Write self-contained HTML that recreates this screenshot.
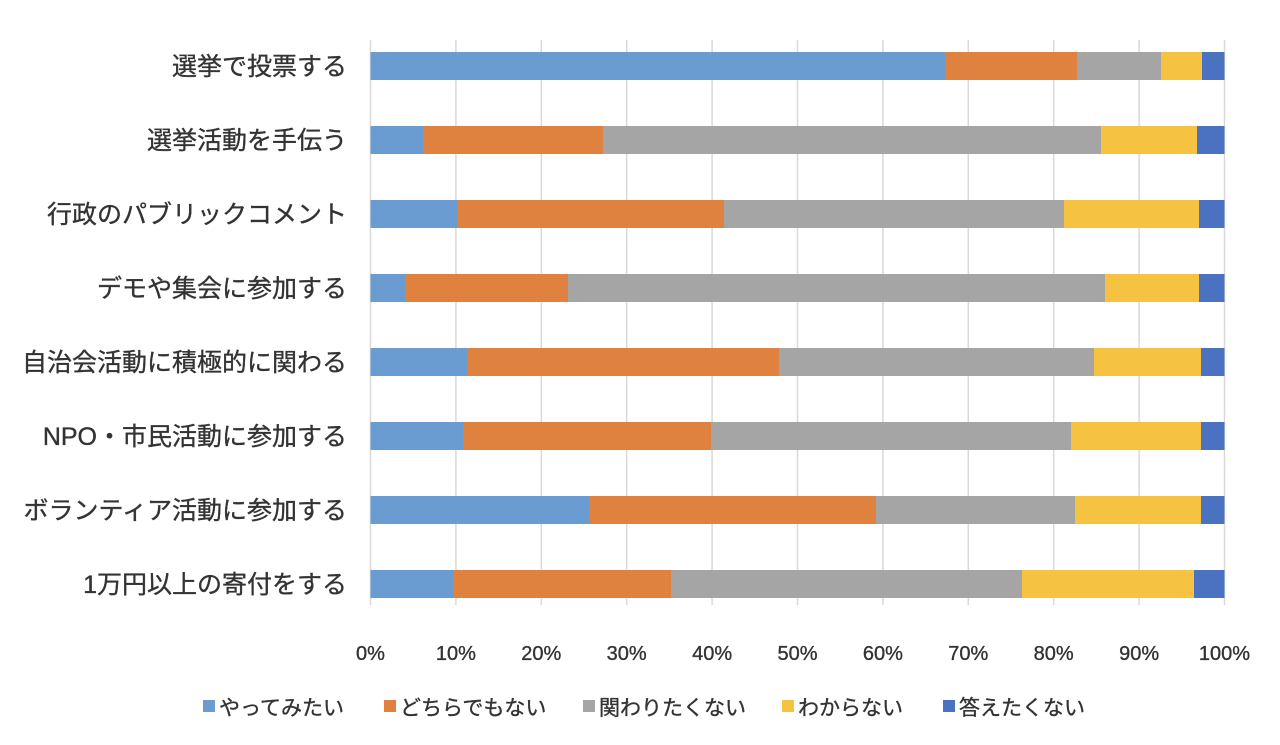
<!DOCTYPE html><html><head><meta charset="utf-8"><style>body{margin:0;background:#fff}svg{display:block}text{font-family:"Liberation Sans","Noto Sans CJK JP",sans-serif;fill:#333;stroke:#333;stroke-width:0.35}</style></head><body>
<svg width="1280" height="745" xmlns="http://www.w3.org/2000/svg">
<g stroke="#d9d9d9" stroke-width="1.5">
<line x1="370.5" y1="40" x2="370.5" y2="605"/><line x1="455.9" y1="40" x2="455.9" y2="605"/><line x1="541.3" y1="40" x2="541.3" y2="605"/><line x1="626.7" y1="40" x2="626.7" y2="605"/><line x1="712.1" y1="40" x2="712.1" y2="605"/><line x1="797.5" y1="40" x2="797.5" y2="605"/><line x1="882.9" y1="40" x2="882.9" y2="605"/><line x1="968.3" y1="40" x2="968.3" y2="605"/><line x1="1053.7" y1="40" x2="1053.7" y2="605"/><line x1="1139.1" y1="40" x2="1139.1" y2="605"/><line x1="1224.5" y1="40" x2="1224.5" y2="605"/>
</g>
<g font-size="25" text-anchor="end">
<text x="347" y="75">選挙で投票する</text>
<text x="347" y="149">選挙活動を手伝う</text>
<text x="347" y="223">行政のパブリックコメント</text>
<text x="347" y="297">デモや集会に参加する</text>
<text x="347" y="371">自治会活動に積極的に関わる</text>
<text x="347" y="445">NPO・市民活動に参加する</text>
<text x="347" y="519">ボランティア活動に参加する</text>
<text x="347" y="593">1万円以上の寄付をする</text>
</g>
<g font-size="20" text-anchor="middle">
<text x="370.5" y="660">0%</text><text x="455.9" y="660">10%</text><text x="541.3" y="660">20%</text><text x="626.7" y="660">30%</text><text x="712.1" y="660">40%</text><text x="797.5" y="660">50%</text><text x="882.9" y="660">60%</text><text x="968.3" y="660">70%</text><text x="1053.7" y="660">80%</text><text x="1139.1" y="660">90%</text><text x="1224.5" y="660">100%</text>
</g>
<g font-size="21">
<rect x="203" y="700" width="12" height="12" fill="#6A9BD1"/><text x="219" y="715">やってみたい</text>
<rect x="384" y="700" width="12" height="12" fill="#E0823F"/><text x="400" y="715">どちらでもない</text>
<rect x="583" y="700" width="12" height="12" fill="#A5A5A5"/><text x="599" y="715">関わりたくない</text>
<rect x="782" y="700" width="12" height="12" fill="#F5C242"/><text x="798" y="715">わからない</text>
<rect x="943" y="700" width="12" height="12" fill="#4A72C0"/><text x="959" y="715">答えたくない</text>
</g>
<g>
<rect x="370.5" y="52" width="574.5" height="28" fill="#6A9BD1"/><rect x="945" y="52" width="132" height="28" fill="#E0823F"/><rect x="1077" y="52" width="84" height="28" fill="#A5A5A5"/><rect x="1161" y="52" width="41" height="28" fill="#F5C242"/><rect x="1202" y="52" width="22.5" height="28" fill="#4A72C0"/>
<rect x="370.5" y="126" width="52.5" height="28" fill="#6A9BD1"/><rect x="423" y="126" width="180" height="28" fill="#E0823F"/><rect x="603" y="126" width="498" height="28" fill="#A5A5A5"/><rect x="1101" y="126" width="96" height="28" fill="#F5C242"/><rect x="1197" y="126" width="27.5" height="28" fill="#4A72C0"/>
<rect x="370.5" y="200" width="86.5" height="28" fill="#6A9BD1"/><rect x="457" y="200" width="267" height="28" fill="#E0823F"/><rect x="724" y="200" width="340" height="28" fill="#A5A5A5"/><rect x="1064" y="200" width="135" height="28" fill="#F5C242"/><rect x="1199" y="200" width="25.5" height="28" fill="#4A72C0"/>
<rect x="370.5" y="274" width="34.5" height="28" fill="#6A9BD1"/><rect x="405" y="274" width="163" height="28" fill="#E0823F"/><rect x="568" y="274" width="537" height="28" fill="#A5A5A5"/><rect x="1105" y="274" width="94" height="28" fill="#F5C242"/><rect x="1199" y="274" width="25.5" height="28" fill="#4A72C0"/>
<rect x="370.5" y="348" width="96.5" height="28" fill="#6A9BD1"/><rect x="467" y="348" width="312" height="28" fill="#E0823F"/><rect x="779" y="348" width="315" height="28" fill="#A5A5A5"/><rect x="1094" y="348" width="107" height="28" fill="#F5C242"/><rect x="1201" y="348" width="23.5" height="28" fill="#4A72C0"/>
<rect x="370.5" y="422" width="92.5" height="28" fill="#6A9BD1"/><rect x="463" y="422" width="248" height="28" fill="#E0823F"/><rect x="711" y="422" width="360" height="28" fill="#A5A5A5"/><rect x="1071" y="422" width="130" height="28" fill="#F5C242"/><rect x="1201" y="422" width="23.5" height="28" fill="#4A72C0"/>
<rect x="370.5" y="496" width="218.5" height="28" fill="#6A9BD1"/><rect x="589" y="496" width="287" height="28" fill="#E0823F"/><rect x="876" y="496" width="199" height="28" fill="#A5A5A5"/><rect x="1075" y="496" width="126" height="28" fill="#F5C242"/><rect x="1201" y="496" width="23.5" height="28" fill="#4A72C0"/>
<rect x="370.5" y="570" width="83.5" height="28" fill="#6A9BD1"/><rect x="454" y="570" width="217" height="28" fill="#E0823F"/><rect x="671" y="570" width="351" height="28" fill="#A5A5A5"/><rect x="1022" y="570" width="172" height="28" fill="#F5C242"/><rect x="1194" y="570" width="30.5" height="28" fill="#4A72C0"/>
</g>
</svg></body></html>
